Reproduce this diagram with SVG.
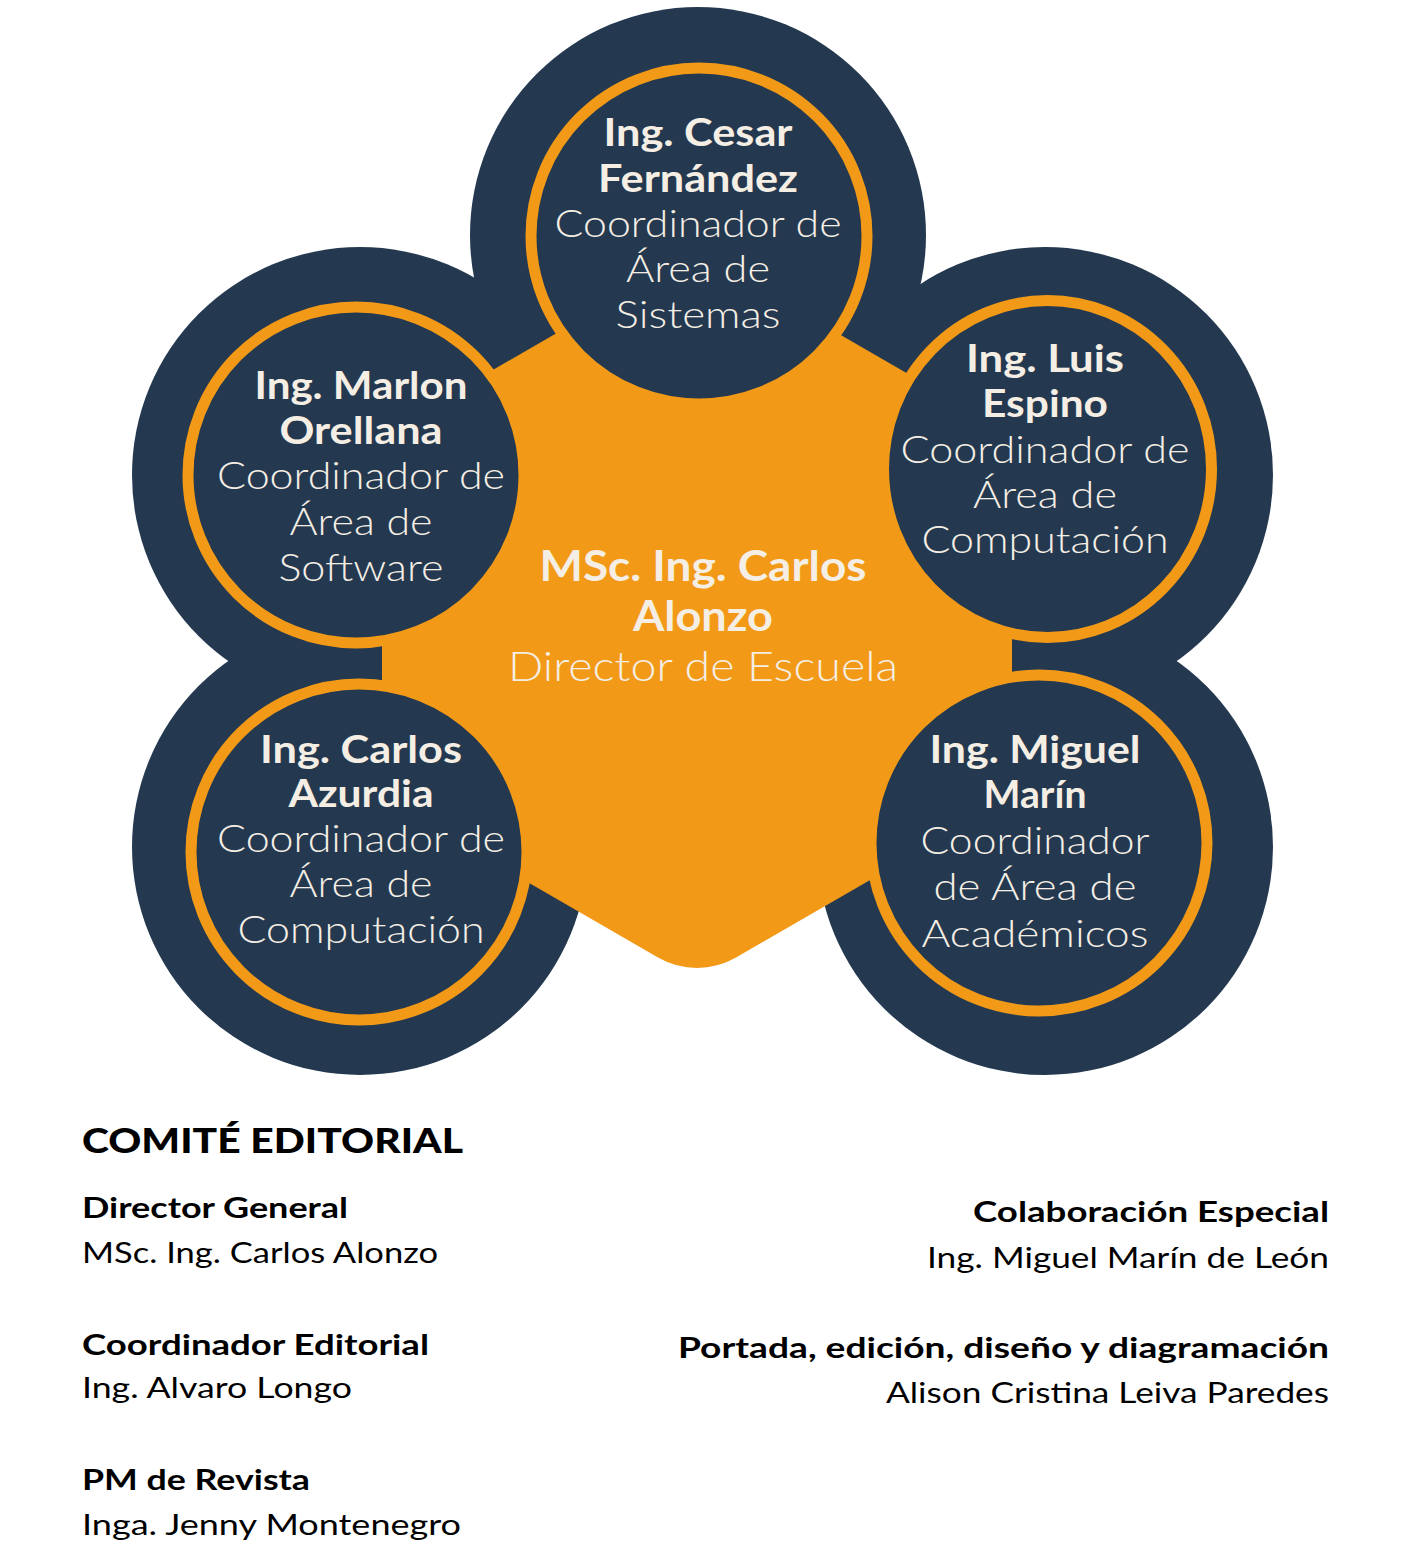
<svg xmlns="http://www.w3.org/2000/svg" width="1410" height="1550" viewBox="0 0 1410 1550">
<style>
.big{fill:#243950}
.ring{fill:#243950;stroke:#F29A17;stroke-width:11}
.hex{fill:#F29A17}
.nm{font-family:Lato,"Open Sans","Liberation Sans",sans-serif;font-weight:700;font-size:38px;fill:#F5EEE4;text-anchor:middle}
.rl{font-family:Lato,"Open Sans","Liberation Sans",sans-serif;font-weight:300;font-size:38px;fill:#F5EEE4;text-anchor:middle}
.cnm{font-family:Lato,"Open Sans","Liberation Sans",sans-serif;font-weight:700;font-size:42px;fill:#F5EEE4;text-anchor:middle}
.crl{font-family:Lato,"Open Sans","Liberation Sans",sans-serif;font-weight:300;font-size:42px;fill:#F5EEE4;text-anchor:middle}
.h1{font-family:Lato,"Liberation Sans",sans-serif;font-weight:900;font-size:35px;fill:#000}
.h2{font-family:Lato,"Liberation Sans",sans-serif;font-weight:700;font-size:29px;fill:#000}
.p{font-family:Lato,"Liberation Sans",sans-serif;font-weight:400;font-size:28px;fill:#000}
.end{text-anchor:end}
</style>
<rect width="1410" height="1550" fill="#FFFFFF"/>
<g id="backdrop">
<circle class="big" cx="698" cy="235" r="228"/>
<circle class="big" cx="360" cy="475" r="228"/>
<circle class="big" cx="1045" cy="475" r="228"/>
<circle class="big" cx="360" cy="847" r="228"/>
<circle class="big" cx="1045" cy="847" r="228"/>
</g>
<g id="director">
<path class="hex" d="M697 252 L1012 434 L1012 798 L736 957.5 A78 78 0 0 1 658 957.5 L382 798 L382 434 Z"/>
<text class="cnm" x="703" y="581" textLength="327" lengthAdjust="spacingAndGlyphs">MSc. Ing. Carlos</text>
<text class="cnm" x="703" y="631" textLength="140" lengthAdjust="spacingAndGlyphs">Alonzo</text>
<text class="crl" x="703" y="681" textLength="390" lengthAdjust="spacingAndGlyphs">Director de Escuela</text>
</g>
<g id="connectors"></g>
<g id="cesar">
<circle class="ring" cx="699" cy="236" r="168"/>
<text class="nm" x="698" y="146" textLength="189" lengthAdjust="spacingAndGlyphs">Ing. Cesar</text>
<text class="nm" x="698" y="192" textLength="200" lengthAdjust="spacingAndGlyphs">Fernández</text>
<text class="rl" x="698" y="237" textLength="287" lengthAdjust="spacingAndGlyphs">Coordinador de</text>
<text class="rl" x="698" y="282" textLength="144" lengthAdjust="spacingAndGlyphs">Área de</text>
<text class="rl" x="698" y="328" textLength="165" lengthAdjust="spacingAndGlyphs">Sistemas</text>
</g>
<g id="marlon">
<circle class="ring" cx="356" cy="475" r="168"/>
<text class="nm" x="361" y="399" textLength="213" lengthAdjust="spacingAndGlyphs">Ing. Marlon</text>
<text class="nm" x="361" y="444" textLength="163" lengthAdjust="spacingAndGlyphs">Orellana</text>
<text class="rl" x="361" y="489" textLength="288" lengthAdjust="spacingAndGlyphs">Coordinador de</text>
<text class="rl" x="361" y="535" textLength="143" lengthAdjust="spacingAndGlyphs">Área de</text>
<text class="rl" x="361" y="581" textLength="165" lengthAdjust="spacingAndGlyphs">Software</text>
</g>
<g id="luis">
<ellipse class="ring" cx="1047.5" cy="469" rx="164" ry="168.5"/>
<text class="nm" x="1045" y="372" textLength="158" lengthAdjust="spacingAndGlyphs">Ing. Luis</text>
<text class="nm" x="1045" y="417" textLength="126" lengthAdjust="spacingAndGlyphs">Espino</text>
<text class="rl" x="1045" y="463" textLength="289" lengthAdjust="spacingAndGlyphs">Coordinador de</text>
<text class="rl" x="1045" y="508" textLength="144" lengthAdjust="spacingAndGlyphs">Área de</text>
<text class="rl" x="1045" y="553" textLength="247" lengthAdjust="spacingAndGlyphs">Computación</text>
</g>
<g id="carlos-azurdia">
<circle class="ring" cx="359" cy="852" r="168"/>
<text class="nm" x="361" y="763" textLength="202" lengthAdjust="spacingAndGlyphs">Ing. Carlos</text>
<text class="nm" x="361" y="807" textLength="145" lengthAdjust="spacingAndGlyphs">Azurdia</text>
<text class="rl" x="361" y="852" textLength="288" lengthAdjust="spacingAndGlyphs">Coordinador de</text>
<text class="rl" x="361" y="897" textLength="143" lengthAdjust="spacingAndGlyphs">Área de</text>
<text class="rl" x="361" y="943" textLength="247" lengthAdjust="spacingAndGlyphs">Computación</text>
</g>
<g id="miguel">
<circle class="ring" cx="1039" cy="843" r="168"/>
<text class="nm" x="1035" y="763" textLength="211" lengthAdjust="spacingAndGlyphs">Ing. Miguel</text>
<text class="nm" x="1035" y="808" textLength="103" lengthAdjust="spacingAndGlyphs">Marín</text>
<text class="rl" x="1035" y="854" textLength="229" lengthAdjust="spacingAndGlyphs">Coordinador</text>
<text class="rl" x="1035" y="900" textLength="203" lengthAdjust="spacingAndGlyphs">de Área de</text>
<text class="rl" x="1035" y="947" textLength="227" lengthAdjust="spacingAndGlyphs">Académicos</text>
</g>
<g id="comite-editorial">
<text class="h1" x="82" y="1153" textLength="381" lengthAdjust="spacingAndGlyphs">COMITÉ EDITORIAL</text>
<text class="h2" x="82" y="1218" textLength="266" lengthAdjust="spacingAndGlyphs">Director General</text>
<text class="p" x="82" y="1263" textLength="356" lengthAdjust="spacingAndGlyphs">MSc. Ing. Carlos Alonzo</text>
<text class="h2" x="82" y="1355" textLength="347" lengthAdjust="spacingAndGlyphs">Coordinador Editorial</text>
<text class="p" x="82" y="1398" textLength="270" lengthAdjust="spacingAndGlyphs">Ing. Alvaro Longo</text>
<text class="h2" x="82" y="1490" textLength="228" lengthAdjust="spacingAndGlyphs">PM de Revista</text>
<text class="p" x="82" y="1535" textLength="379" lengthAdjust="spacingAndGlyphs">Inga. Jenny Montenegro</text>
</g>
<g id="creditos">
<text class="h2 end" x="1329" y="1222" textLength="356" lengthAdjust="spacingAndGlyphs">Colaboración Especial</text>
<text class="p end" x="1329" y="1268" textLength="402" lengthAdjust="spacingAndGlyphs">Ing. Miguel Marín de León</text>
<text class="h2 end" x="1329" y="1358" textLength="651" lengthAdjust="spacingAndGlyphs">Portada, edición, diseño y diagramación</text>
<text class="p end" x="1329" y="1403" textLength="443" lengthAdjust="spacingAndGlyphs">Alison Cristina Leiva Paredes</text>
</g>
</svg>
